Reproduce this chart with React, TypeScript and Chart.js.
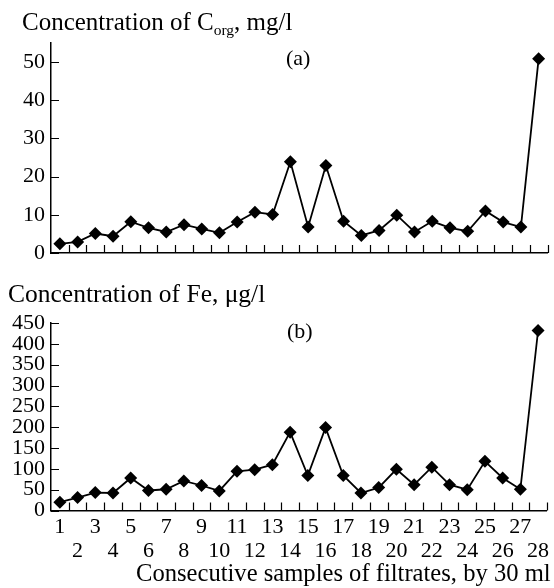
import React, { useEffect, useRef } from "react";
import { Chart, registerables } from "chart.js";

Chart.register(...registerables);

// ---- data ----
const samples = ["1", "2", "3", "4", "5", "6", "7", "8", "9", "10", "11", "12", "13", "14", "15", "16", "17", "18", "19", "20", "21", "22", "23", "24", "25", "26", "27", "28"];
const corgValues = [2.4, 2.9, 5.1, 4.4, 8.2, 6.6, 5.5, 7.4, 6.3, 5.3, 8.1, 10.7, 10.1, 23.9, 6.8, 22.9, 8.3, 4.6, 5.9, 9.9, 5.5, 8.3, 6.6, 5.7, 11.0, 8.1, 6.8, 50.9];
const feValues = [20, 31, 43, 42, 78, 48, 51, 71, 60, 47, 94, 98, 110, 188, 84, 199, 84, 42, 55, 99, 62, 104, 62, 50, 118, 78, 51, 432];
const corgTicks = [0, 10, 20, 30, 40, 50];
const feTicks = [0, 50, 100, 150, 200, 250, 300, 350, 400, 450];
const corgMax = 55;
const feMax = 450;

const topTitle = "Concentration of C";
const topTitleSub = "org";
const topTitleTail = ", mg/l";
const bottomTitle = "Concentration of Fe, \u03bcg/l";
const xTitle = "Consecutive samples of filtrates, by 30 ml";
const labelA = "(a)";
const labelB = "(b)";

const FONT = "'Liberation Serif', 'Times New Roman', serif";

const inwardTicks = {
  id: "inwardTicks",
  beforeDatasetsDraw(chart: any) {
    const ctx = chart.ctx;
    const xs = chart.scales.x;
    const ys = chart.scales.y;
    const area = chart.chartArea;
    ctx.save();
    ctx.strokeStyle = "#000";
    ctx.lineWidth = 1.2;
    ctx.beginPath();
    for (let i = 0; i < samples.length; i++) {
      const px = Math.round(xs.getPixelForValue(i + 0.5)) + 0.5;
      ctx.moveTo(px, area.bottom);
      ctx.lineTo(px, area.bottom - 8);
    }
    ys.ticks.forEach((t: any) => {
      const py = Math.round(ys.getPixelForValue(t.value)) + 0.5;
      ctx.moveTo(area.left, py);
      ctx.lineTo(area.left + 8, py);
    });
    ctx.stroke();
    ctx.restore();
  },
};

function makeConfig(values: number[], tickValues: number[], max: number, showX: boolean, padding: any): any {
  return {
    type: "line",
    data: {
      labels: samples,
      datasets: [
        {
          data: values,
          borderColor: "#000",
          borderWidth: 1.8,
          pointStyle: "rectRot",
          pointRadius: 6.5,
          pointBackgroundColor: "#000",
          pointBorderColor: "#000",
          pointBorderWidth: 0,
          tension: 0,
          fill: false,
        },
      ],
    },
    options: {
      responsive: false,
      animation: false,
      layout: { padding },
      plugins: { legend: { display: false }, tooltip: { enabled: false }, title: { display: false } },
      scales: {
        x: {
          type: "category",
          offset: true,
          grid: { display: false, drawTicks: false },
          border: { display: true, color: "#000", width: 1.5 },
          afterFit: (s: any) => {
            s.height = showX ? 54 : 0;
          },
          ticks: {
            display: showX,
            autoSkip: false,
            maxRotation: 0,
            minRotation: 0,
            padding: 4.8,
            color: "#000",
            font: { family: FONT, size: 22, lineHeight: "24px" },
            callback: (_v: any, i: number) => (i % 2 === 0 ? [samples[i], ""] : ["", samples[i]]),
          },
        },
        y: {
          min: 0,
          max,
          grid: { display: false, drawTicks: false },
          border: { display: true, color: "#000", width: 1.5 },
          afterFit: (s: any) => {
            s.width = 51;
          },
          afterBuildTicks: (s: any) => {
            s.ticks = tickValues.map((v) => ({ value: v }));
          },
          ticks: {
            autoSkip: false,
            padding: 6,
            color: "#000",
            font: { family: FONT, size: 22, lineHeight: 1 },
          },
        },
      },
    },
    plugins: [inwardTicks],
  };
}

export default function App() {
  const topRef = useRef<HTMLCanvasElement>(null);
  const botRef = useRef<HTMLCanvasElement>(null);

  useEffect(() => {
    const c1 = new Chart(
      topRef.current as HTMLCanvasElement,
      makeConfig(corgValues, corgTicks, corgMax, false, { top: 43, right: 4, bottom: 16, left: 0 })
    );
    const c2 = new Chart(
      botRef.current as HTMLCanvasElement,
      makeConfig(feValues, feTicks, feMax, true, { top: 53, right: 4, bottom: 23.5, left: 0 })
    );
    return () => {
      c1.destroy();
      c2.destroy();
    };
  }, []);

  const text: React.CSSProperties = {
    position: "absolute",
    fontFamily: FONT,
    fontSize: 25,
    lineHeight: 1,
    color: "#000",
    whiteSpace: "nowrap",
  };

  return (
    <div
      style={{
        position: "absolute",
        left: 0,
        top: 0,
        width: 554,
        height: 588,
        overflow: "hidden",
        background: "#fff",
      }}
    >
      <canvas ref={topRef} width={554} height={270} style={{ position: "absolute", left: 0, top: 0, width: 554, height: 270 }} />
      <canvas ref={botRef} width={554} height={318} style={{ position: "absolute", left: 0, top: 270, width: 554, height: 318 }} />
      <div style={{ ...text, left: 22, top: 9 }}>
        {topTitle}
        <sub style={{ fontSize: "0.62em", lineHeight: 0, verticalAlign: "baseline", position: "relative", top: "0.32em" }}>{topTitleSub}</sub>
        {topTitleTail}
      </div>
      <div style={{ ...text, left: 8, top: 281, fontSize: 25.5 }}>{bottomTitle}</div>
      <div style={{ ...text, left: 286, top: 47, fontSize: 22 }}>{labelA}</div>
      <div style={{ ...text, left: 287, top: 320, fontSize: 22 }}>{labelB}</div>
      <div style={{ ...text, left: 136, top: 561, fontSize: 24.6 }}>{xTitle}</div>
    </div>
  );
}
